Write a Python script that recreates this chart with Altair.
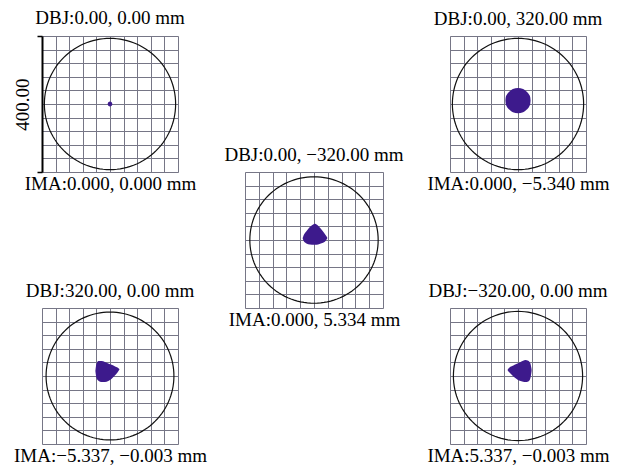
import altair as alt
import numpy as np
import pandas as pd

# ---- data ----
obj_labels = [
    "DBJ:0.00, 0.00 mm",
    "DBJ:0.00, 320.00 mm",
    "DBJ:0.00, \u2212320.00 mm",
    "DBJ:320.00, 0.00 mm",
    "DBJ:\u2212320.00, 0.00 mm",
]
ima_labels = [
    "IMA:0.000, 0.000 mm",
    "IMA:0.000, \u22125.340 mm",
    "IMA:0.000, 5.334 mm",
    "IMA:\u22125.337, \u22120.003 mm",
    "IMA:5.337, \u22120.003 mm",
]
scale_bar_label = "400.00"
grid_ticks = [-200, -160, -120, -80, -40, 0, 40, 80, 120, 160, 200]  # um
airy_radius = [193, 193, 186, 188, 190]  # um

# spot outlines (um): x, upper edge, lower edge
spot_x = [
    [-7, -5, 0, 5, 7],
    [-37, -36, -33, -25, -15, 0, 15, 25, 33, 36, 37],
    [-33, -30, -22, -12, 0, 3, 12, 24, 34, 39],
    [-43, -40, -34, -25, -15, -5, 5, 15, 22, 28],
    [-31, -25, -15, -5, 5, 15, 22, 30, 36, 40],
]
spot_top = [
    [0, 5, 7, 5, 0],
    [10, 20, 27, 37, 44, 47, 44, 37, 27, 20, 10],
    [5, 14, 26, 38, 47, 48, 42, 28, 14, 6],
    [15, 35, 44, 44, 41, 37, 33, 28, 25, 20],
    [18, 25, 30, 35, 40, 45, 47, 45, 38, 20],
]
spot_bot = [
    [0, -5, -7, -5, 0],
    [10, 0, -7, -17, -24, -27, -24, -17, -7, 0, 10],
    [5, -3, -10, -13, -14, -14, -13, -9, -2, 6],
    [15, -5, -14, -18, -18, -15, -8, 2, 10, 20],
    [18, 10, 0, -8, -14, -17, -18, -16, -8, 15],
]

SPOT_COLOR = "#3d1a8c"
GRID_COLOR = "#767686"
FONT = "Liberation Serif"
FS = 19


def panel(i, w, h, scale_bar=False):
    spot = pd.DataFrame({"x": spot_x[i], "top": spot_top[i], "bot": spot_bot[i]})
    ang = np.deg2rad(np.arange(0, 361, 3))
    circ = pd.DataFrame({
        "x": airy_radius[i] * np.cos(ang),
        "y": airy_radius[i] * np.sin(ang),
        "k": np.arange(len(ang)),
    })
    sc = alt.Scale(domain=[-200, 200], nice=False, zero=False)
    xaxis = alt.Axis(values=grid_ticks, grid=True, gridColor=GRID_COLOR, gridWidth=1,
                     gridOpacity=1, labels=False, ticks=False, domain=False,
                     title=ima_labels[i], titleFont=FONT, titleFontSize=FS,
                     titleFontWeight="normal", titleColor="black", titlePadding=2)
    if scale_bar:
        yaxis = alt.Axis(values=grid_ticks, grid=True, gridColor=GRID_COLOR, gridWidth=1,
                         gridOpacity=1, labels=False, ticks=True, tickColor="black",
                         tickWidth=1.5, tickSize=5,
                         tickOpacity={"condition": {"test": "abs(datum.value) == 200", "value": 1}, "value": 0},
                         domain=True, domainColor="black", domainWidth=2,
                         title=scale_bar_label, titleFont=FONT, titleFontSize=FS,
                         titleFontWeight="normal", titleColor="black", titlePadding=4)
    else:
        yaxis = alt.Axis(values=grid_ticks, grid=True, gridColor=GRID_COLOR, gridWidth=1,
                         gridOpacity=1, labels=False, ticks=False, domain=False, title=None)
    area = alt.Chart(spot).mark_area(color=SPOT_COLOR, interpolate="monotone").encode(
        x=alt.X("x:Q", scale=sc, axis=xaxis),
        y=alt.Y("top:Q", scale=sc, axis=yaxis),
        y2="bot:Q",
    )
    ring = alt.Chart(circ).mark_line(color="#111111", strokeWidth=1.2).encode(
        x=alt.X("x:Q", scale=sc, axis=xaxis),
        y=alt.Y("y:Q", scale=sc, axis=yaxis),
        order="k:Q",
    )
    return alt.layer(area, ring).properties(
        width=w, height=h,
        title=alt.Title(obj_labels[i], font=FONT, fontSize=FS, fontWeight="normal",
                        color="black", offset=7, frame="group"),
    )


def blank(w, h):
    return alt.Chart(pd.DataFrame({"v": [0]})).mark_point(opacity=0).encode(
        x=alt.X("v:Q", axis=None), y=alt.Y("v:Q", axis=None)
    ).properties(width=w, height=h, view=alt.ViewBackground(strokeWidth=0, strokeOpacity=0))


cells = [
    panel(0, 136, 136, scale_bar=True), blank(138, 136), panel(1, 136, 136),
    blank(136, 136), panel(2, 138, 136), blank(136, 136),
    panel(3, 136, 136), blank(138, 136), panel(4, 136, 136),
]

chart = alt.concat(*cells, columns=3, spacing={"row": -6, "column": 67}, bounds="flush").properties(
    padding={"left": 4, "top": 0, "right": 0, "bottom": 0}
).configure_view(strokeWidth=0, strokeOpacity=0).configure(background="white")

chart.save("out.html", embed_options={"renderer": "svg", "actions": False})
